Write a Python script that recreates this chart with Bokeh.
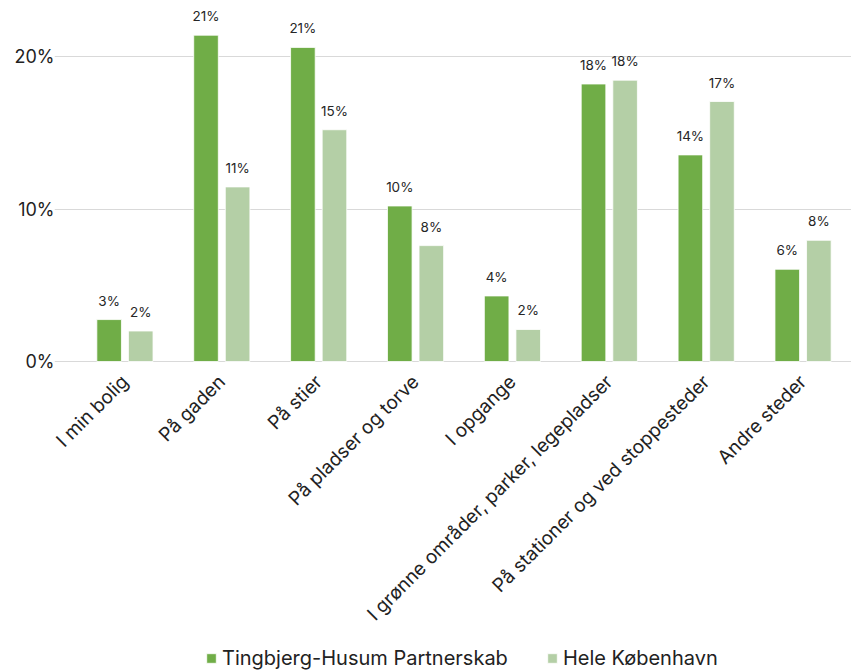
import math
from bokeh.plotting import figure
from bokeh.models import ColumnDataSource, Range1d, FixedTicker, Legend, LegendItem, LabelSet
from bokeh.transform import dodge
from bokeh.core.properties import value
from bokeh.embed import file_html
from bokeh.resources import INLINE

categories = ["I min bolig", "På gaden", "På stier", "På pladser og torve", "I opgange",
              "I grønne områder, parker, legepladser", "På stationer og ved stoppesteder", "Andre steder"]
series_names = ["Tingbjerg-Husum Partnerskab", "Hele København"]
tingbjerg = [2.75, 21.4, 20.6, 10.2, 4.3, 18.2, 13.55, 6.05]
koebenhavn = [2.0, 11.45, 15.2, 7.6, 2.1, 18.45, 17.05, 7.95]
y_ticks = [0, 10, 20]
y_tick_labels = ["0%", "10%", "20%"]

DARK = "#70AD47"
LIGHT = "#B4CFA6"
FONT = "Inter"

# category slots 0..n on a numeric axis (slot centre = index + 0.5)
positions = [i + 0.5 for i in range(len(categories))]

src = ColumnDataSource(dict(
    pos=positions,
    a=tingbjerg,
    b=koebenhavn,
    a_lab=[f"{round(v)}%" for v in tingbjerg],
    b_lab=[f"{round(v)}%" for v in koebenhavn],
))

p = figure(width=851, height=671, x_range=Range1d(-0.227, len(categories)),
           y_range=Range1d(-20.33, 23.02), output_backend="svg", toolbar_location=None,
           min_border_left=54, min_border_right=0, min_border_top=10, min_border_bottom=0)
p.outline_line_color = None
p.background_fill_color = "white"
p.border_fill_color = "white"

off = 0.163
bw = 0.254
r1 = p.vbar(x=dodge("pos", -off), top="a", width=bw, source=src,
            fill_color=DARK, line_color="white", line_width=0.8)
r2 = p.vbar(x=dodge("pos", off), top="b", width=bw, source=src,
            fill_color=LIGHT, line_color="white", line_width=0.8)

for col, lab, dx in (("a", "a_lab", -off), ("b", "b_lab", off)):
    ls = LabelSet(x=dodge("pos", dx), y=col, text=lab, source=src,
                  text_align="center", text_baseline="bottom", y_offset=11,
                  text_font=value(FONT), text_font_size="13.5px", text_color="#262626")
    p.add_layout(ls)

# value axis
p.yaxis.ticker = FixedTicker(ticks=y_ticks)
p.yaxis.major_label_overrides = {t: l for t, l in zip(y_ticks, y_tick_labels)}
p.yaxis.axis_line_color = None
p.yaxis.major_tick_line_color = None
p.yaxis.minor_tick_line_color = None
p.yaxis.major_tick_out = 0
p.yaxis.minor_tick_out = 0
p.yaxis.major_label_standoff = 0
p.yaxis.major_label_text_font = FONT
p.yaxis.major_label_text_font_size = "18px"
p.yaxis.major_label_text_color = "#222222"

# category axis pinned at y = 0
p.xaxis.ticker = FixedTicker(ticks=positions, minor_ticks=[])
p.xaxis.major_label_overrides = {x: c for x, c in zip(positions, categories)}
p.xaxis.fixed_location = 0
p.xaxis.axis_line_color = None
p.xaxis.major_tick_line_color = None
p.xaxis.minor_tick_line_color = None
p.xaxis.major_tick_out = 0
p.xaxis.minor_tick_out = 0
p.xaxis.major_label_orientation = math.pi / 4
p.xaxis.major_label_standoff = 17
p.xaxis.major_label_text_font = FONT
p.xaxis.major_label_text_font_size = "19px"
p.xaxis.major_label_text_color = "#222222"

p.xgrid.grid_line_color = None
p.ygrid.ticker = FixedTicker(ticks=y_ticks)
p.ygrid.grid_line_color = "#d9d9d9"
p.ygrid.grid_line_width = 1

legend = Legend(items=[LegendItem(label=series_names[0], renderers=[r1]),
                       LegendItem(label=series_names[1], renderers=[r2])],
                orientation="horizontal", location=(151, 1),
                glyph_width=12, glyph_height=12, label_standoff=5, spacing=38,
                label_height=20, padding=0, margin=0, border_line_color=None,
                background_fill_alpha=0,
                label_text_font=FONT, label_text_font_size="20px", label_text_color="#222222")
p.add_layout(legend, "center")

open("out.html", "w").write(file_html(p, INLINE))
